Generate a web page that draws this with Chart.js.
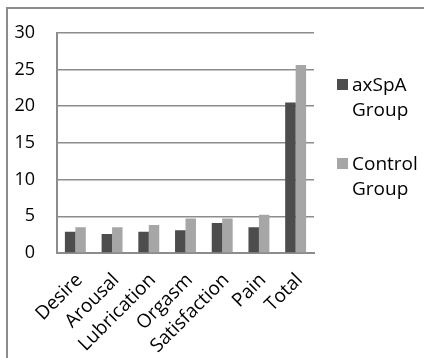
<!DOCTYPE html>
<html>
<head>
<meta charset="utf-8">
<script src="https://cdn.jsdelivr.net/npm/chart.js@4/dist/chart.umd.min.js"></script>
<style>
  html, body { margin: 0; padding: 0; background: #fff; }
  #wrap { position: relative; width: 424px; height: 358px; overflow: hidden; }
  #frame { position: absolute; left: 6px; top: 7px; right: -4px; bottom: -4px;
           border-left: 2px solid #8c8c8c; border-top: 2px solid #8c8c8c; }
  canvas { position: absolute; left: 0; top: 0; }
</style>
</head>
<body>
<div id="wrap">
  <div id="frame"></div>
  <canvas id="c" width="424" height="358"></canvas>
</div>
<script>
// FSFI domain scores by group
const categories = ['Desire', 'Arousal', 'Lubrication', 'Orgasm', 'Satisfaction', 'Pain', 'Total'];
const axspaScores = [2.9, 2.6, 2.9, 3.1, 4.1, 3.5, 20.5];
const controlScores = [3.5, 3.5, 3.8, 4.7, 4.7, 5.2, 25.6];
const yTicks = [0, 5, 10, 15, 20, 25, 30];
const seriesNames = [['axSpA', 'Group'], ['Control', 'Group']];

const FONT = '"Open Sans", "DejaVu Sans", sans-serif';

// Legend drawn to the right of the plot, with two-line labels
const sideLegend = {
  id: 'sideLegend',
  afterDraw(chart) {
    const ctx = chart.ctx;
    const x0 = chart.chartArea.right + 23;
    const tops = [79, 158];
    ctx.save();
    ctx.font = '19px ' + FONT;
    ctx.textBaseline = 'middle';
    chart.data.datasets.forEach((ds, i) => {
      const y = tops[i];
      ctx.fillStyle = ds.backgroundColor;
      ctx.fillRect(x0, y, 11, 11);
      ctx.fillStyle = '#000';
      seriesNames[i].forEach((t, k) => ctx.fillText(t, x0 + 15, y + 7 + k * 25));
    });
    ctx.restore();
  }
};

new Chart(document.getElementById('c'), {
  type: 'bar',
  data: {
    labels: categories,
    datasets: [
      { label: seriesNames[0].join(' '), data: axspaScores, backgroundColor: '#4d4d4d' },
      { label: seriesNames[1].join(' '), data: controlScores, backgroundColor: '#a6a6a6' }
    ]
  },
  options: {
    responsive: false,
    animation: false,
    layout: { padding: { top: 25, right: 110, left: 0, bottom: 0 } },
    datasets: { bar: { categoryPercentage: 0.57, barPercentage: 1.0 } },
    plugins: { legend: { display: false }, tooltip: { enabled: false } },
    scales: {
      x: {
        afterFit(axis) { axis.height = 105; },
        grid: { display: false, drawTicks: false },
        border: { color: '#8c8c8c', width: 2 },
        ticks: { color: '#000', font: { family: FONT, size: 19 }, autoSkip: false,
                 minRotation: 45, maxRotation: 45, padding: 16, labelOffset: 4 }
      },
      y: {
        min: 0, max: 30,
        afterBuildTicks(axis) { axis.ticks = yTicks.map(v => ({ value: v })); },
        afterFit(axis) { axis.width = 57; },
        grid: { color: '#8c8c8c', lineWidth: 1.5, drawTicks: false },
        border: { color: '#8c8c8c', width: 2 },
        ticks: { color: '#000', font: { family: FONT, size: 18 }, padding: 22 }
      }
    }
  },
  plugins: [sideLegend]
});
</script>
</body>
</html>
